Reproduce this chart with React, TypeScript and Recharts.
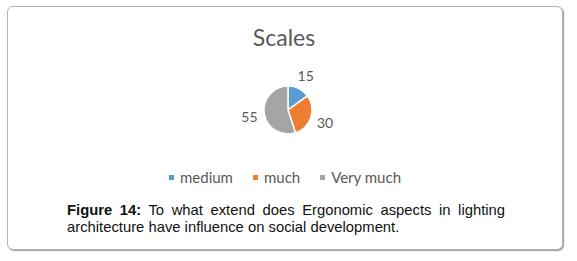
import React from "react"
import { Cell, Legend, Pie, PieChart } from "recharts"

const categories = ["medium", "much", "Very much"]
const values = [15, 30, 55]
const colors = ["#5B9BD5", "#ED7D31", "#A5A5A5"]

const data = categories.map((name, i) => ({ name, value: values[i] }))

const RAD = Math.PI / 180
const FONT = "Lato, 'Open Sans', sans-serif"
const TEXT_GREY = "#595959"

function renderLabel(props: any) {
  const { cx, cy, midAngle, outerRadius, value } = props
  const r = outerRadius + 15
  const x = cx + r * Math.cos(-midAngle * RAD)
  const y = cy + r * Math.sin(-midAngle * RAD)
  return (
    <text
      x={x}
      y={y}
      fill={TEXT_GREY}
      fontSize={14}
      fontFamily={FONT}
      textAnchor="middle"
      dominantBaseline="central"
    >
      {value}
    </text>
  )
}

function renderLegend() {
  return (
    <div
      style={{
        display: "flex",
        justifyContent: "center",
        alignItems: "center",
        fontFamily: FONT,
        fontSize: 15,
        color: TEXT_GREY,
      }}
    >
      {data.map((d, i) => (
        <div
          key={d.name}
          style={{ display: "flex", alignItems: "center", marginRight: i < data.length - 1 ? 20 : 0 }}
        >
          <span style={{ width: 5, height: 5, background: colors[i], marginRight: 6, display: "inline-block" }} />
          <span>{d.name}</span>
        </div>
      ))}
    </div>
  )
}

export default function App() {
  return (
    <div
      style={{
        position: "absolute",
        left: 7,
        top: 6,
        width: 554,
        height: 242,
        border: "1px solid #b4b4b4",
        borderRadius: 6,
        boxShadow: "1px 1px 1px #9a9a9a",
        background: "#fff",
      }}
    >
      <div style={{ position: "absolute", left: 0, top: 0 }}>
        <PieChart width={554} height={190}>
          <text
            x={276}
            y={39}
            textAnchor="middle"
            fontSize={23}
            fontFamily={FONT}
            fill={TEXT_GREY}
          >
            Scales
          </text>
          <Pie
            data={data}
            dataKey="value"
            nameKey="name"
            cx={275}
            cy={98}
            outerRadius={24}
            startAngle={90}
            endAngle={-270}
            stroke="#fff"
            strokeWidth={1.5}
            label={renderLabel}
            labelLine={false}
            isAnimationActive={false}
          >
            {data.map((d, i) => (
              <Cell key={d.name} fill={colors[i]} />
            ))}
          </Pie>
          <Legend
            content={renderLegend}
            wrapperStyle={{ position: "absolute", left: 0, top: 161, width: 554 }}
          />
        </PieChart>
      </div>
      <div
        style={{
          position: "absolute",
          left: 59,
          top: 195,
          width: 438,
          fontFamily: "'Liberation Sans', Arial, sans-serif",
          fontSize: 14.8,
          lineHeight: "17px",
          color: "#111",
        }}
      >
        <div style={{ textAlign: "justify", textAlignLast: "justify" }}>
          <b>Figure 14:</b>
          <span> To what extend does Ergonomic aspects in lighting</span>
        </div>
        <div>architecture have influence on social development.</div>
      </div>
    </div>
  )
}
